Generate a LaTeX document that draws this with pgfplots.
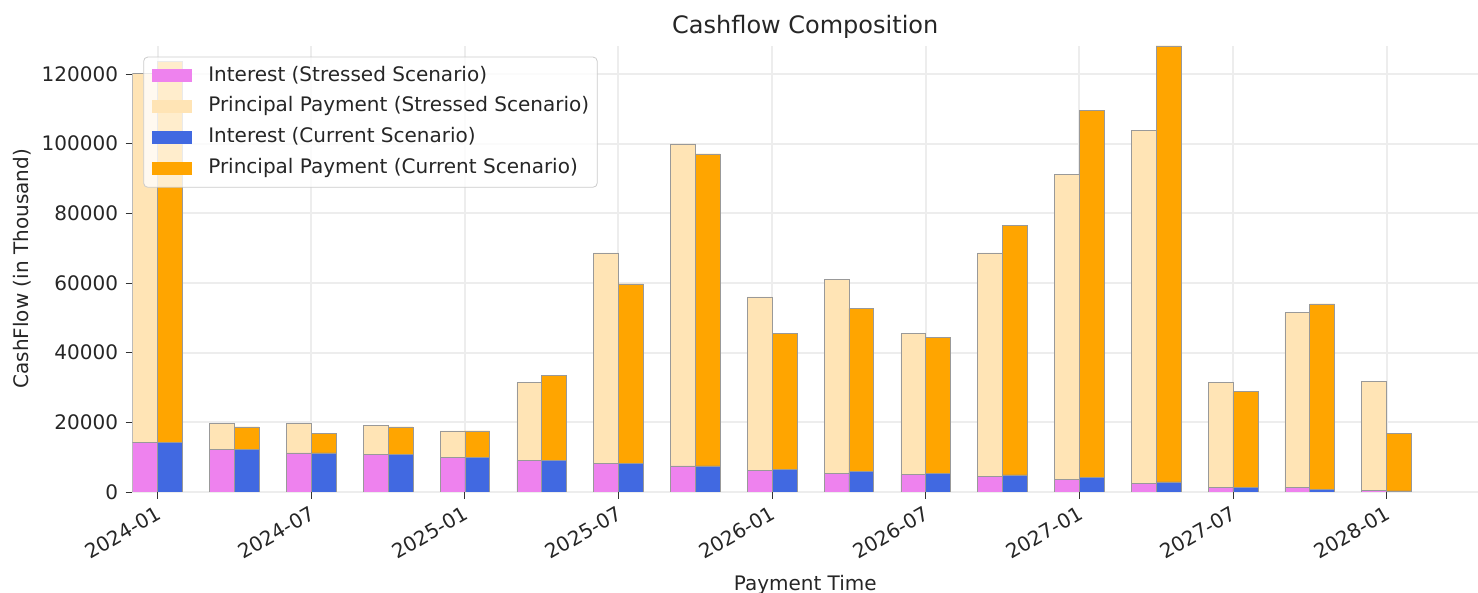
\documentclass[border=0pt]{standalone}
\usepackage{fontspec}
\setmainfont{DejaVu Sans}
\usepackage{pgfplots}
\pgfplotsset{compat=1.18}
\usepackage{pgfplotstable}

\definecolor{stInt}{HTML}{EE82EE}
\definecolor{stPri}{HTML}{FFE4B5}
\definecolor{cuInt}{HTML}{4169E1}
\definecolor{cuPri}{HTML}{FFA500}

% months since 2024-01, interest and principal per scenario (in thousand)
\pgfplotstableread{
m  sint  spri   cint  cpri
0  14200 105900 14200 109300
3  12170 7470   12170 6490
6  11200 8440   11200 5570
9  10820 8330   10820 7840
12 9960  7550   9960  7550
15 9100  22300  9100  24320
18 8240  60380  8240  51480
21 7470  92440  7470  89570
24 6230  49760  6600  38880
27 5370  55610  5850  46800
30 4990  40490  5370  38960
33 4500  64120  4880  71600
36 3650  87470  4130  105370
39 2410  101350 2870  125180
42 1260  30140  1260  27560
45 1260  50240  780   53200
48 400   31300  300   16470
}\cashflow

\pgfplotsset{
  cfbase/.style={
    width=672.75pt, height=223.15pt, scale only axis,
    xmin=-0.98, xmax=51.57, ymin=0, ymax=128100,
    ybar stacked, bar width=0.97,
  },
  lgpatch/.style={legend image code/.code={
    \fill[##1, draw=none, fill opacity=1, sharp corners] (0pt,-3.25pt) rectangle (20pt,3.25pt);}},
  cfbar/.style={fill=#1, draw=black!40, line width=0.3pt, lgpatch},
}

\begin{document}
\fontsize{10}{12}\selectfont
\begin{tikzpicture}
\begin{axis}[
    cfbase, name=ax,
    bar shift=-0.485,
    title={Cashflow Composition},
    title style={at={(0.5,1)}, anchor=base, yshift=0.2pt,
      font=\fontsize{12}{14.4}\selectfont, text=black!85},
    xlabel={Payment Time},
    xlabel style={at={(axis description cs:0.5,0)}, anchor=base, yshift=-49.5pt, text=black!85},
    ylabel={CashFlow (in Thousand)},
    ylabel style={at={(axis description cs:-0.0823,0.5)}, anchor=center, text=black!85},
    xtick={0,6,...,48},
    xticklabels={2024-01,2024-07,2025-01,2025-07,2026-01,2026-07,2027-01,2027-07,2028-01},
    ytick={0,20000,...,120000},
    scaled y ticks=false,
    /pgf/number format/assume math mode=true,
    yticklabel style={/pgf/number format/fixed, /pgf/number format/1000 sep={},
      inner sep=0pt, xshift=-3.6pt, text=black!85},
    xticklabel style={inner sep=0pt, xshift=-1.2pt, yshift=-3pt, rotate=30,
      anchor=north east, text=black!85},
    tick pos=left, tick align=outside, major tick length=3.4pt,
    tick style={black!80, line width=0.4pt},
    axis line style={draw=none},
    grid=major, major grid style={black!7, line width=1pt},
]
\addplot+[cfbar=stInt] table[x=m, y=sint] {\cashflow};
\addplot+[cfbar=stPri] table[x=m, y=spri] {\cashflow};
\end{axis}
\begin{axis}[
    cfbase, hide axis,
    bar shift=0.485,
    legend cell align=left,
    legend style={at={(axis description cs:0,1)}, anchor=north west,
      xshift=5.4pt, yshift=-5.5pt,
      fill=white, fill opacity=0.8, draw opacity=1, text opacity=1,
      draw=black!20, rounded corners=2pt,
      inner xsep=4pt, inner ysep=4.5pt,
      row sep=5.75pt, column sep=8.3pt,
      nodes={inner sep=0pt, text height=7.5pt, text depth=2.2pt, text=black!85},
      font=\fontsize{10}{12}\selectfont},
]
\addlegendimage{cfbar=stInt}
\addlegendentry{Interest (Stressed Scenario)}
\addlegendimage{cfbar=stPri}
\addlegendentry{Principal Payment (Stressed Scenario)}
\addplot+[cfbar=cuInt] table[x=m, y=cint] {\cashflow};
\addlegendentry{Interest (Current Scenario)}
\addplot+[cfbar=cuPri] table[x=m, y=cpri] {\cashflow};
\addlegendentry{Principal Payment (Current Scenario)}
\end{axis}
\pgfresetboundingbox
\path[use as bounding box] ([xshift=-66.25pt, yshift=-50.5pt]ax.south west)
  rectangle ([yshift=22.85pt]ax.north east);
\end{tikzpicture}
\end{document}
